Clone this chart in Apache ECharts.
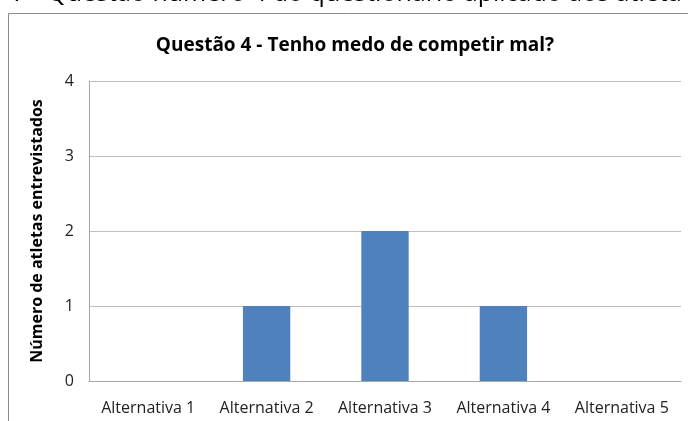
<!DOCTYPE html>
<html>
<head>
<meta charset="utf-8">
<script src="https://cdn.jsdelivr.net/npm/echarts@6/dist/echarts.min.js"></script>
<style>
  html, body { margin: 0; padding: 0; background: #fff; }
  #chart { width: 688px; height: 421px; }
</style>
</head>
<body>
<div id="chart"></div>
<script>
// chart data
const categories = ['Alternativa 1', 'Alternativa 2', 'Alternativa 3', 'Alternativa 4', 'Alternativa 5'];
const values = [0, 1, 2, 1, 0];
const yTicks = [0, 1, 2, 3, 4];

const chartTitle = 'Questão 4 - Tenho medo de competir mal?';
const yName = 'Número de atletas entrevistados';
const captionText = '7 - Questão número 4 do questionário aplicado aos atleta';

const font = '"Open Sans", "Liberation Sans", sans-serif';

const chart = echarts.init(document.getElementById('chart'));

const option = {
    animation: false,
    backgroundColor: '#fff',
    title: {
        text: chartTitle,
        left: 350,
        textAlign: 'center',
        top: 31,
        textStyle: {
            fontFamily: font,
            fontSize: 19,
            fontWeight: 'bold',
            color: '#000'
        }
    },
    graphic: [
        {
            type: 'rect',
            shape: { x: 8.5, y: 13.5, width: 700, height: 420 },
            style: { fill: 'none', stroke: '#8c8c8c', lineWidth: 1 }
        },
        {
            type: 'text',
            left: 12,
            top: -19,
            style: {
                text: captionText,
                fontFamily: font,
                fontSize: 25,
                fill: '#000'
            }
        }
    ],
    grid: {
        left: 89,
        right: 7,
        top: 81,
        bottom: 40
    },
    xAxis: {
        type: 'category',
        data: categories,
        axisTick: { show: false },
        axisLine: { show: true, lineStyle: { color: '#a6a6a6' } },
        axisLabel: {
            interval: 0,
            hideOverlap: false,
            margin: 19,
            fontFamily: font,
            fontSize: 16,
            color: '#222'
        }
    },
    yAxis: {
        type: 'value',
        min: yTicks[0],
        max: yTicks[yTicks.length - 1],
        interval: 1,
        name: yName,
        nameLocation: 'middle',
        nameGap: 44,
        nameRotate: 90,
        nameTextStyle: {
            fontFamily: font,
            fontSize: 16,
            fontWeight: 'bold',
            color: '#000'
        },
        axisLine: { show: true, lineStyle: { color: '#a6a6a6' } },
        axisTick: { show: false },
        axisLabel: {
            margin: 15,
            fontFamily: font,
            fontSize: 16,
            color: '#222'
        },
        splitLine: { show: true, lineStyle: { color: '#bfbfbf' } }
    },
    series: [{
        type: 'bar',
        data: values,
        barWidth: '40%',
        itemStyle: { color: '#4f81bd' }
    }]
};

chart.setOption(option);
</script>
</body>
</html>
